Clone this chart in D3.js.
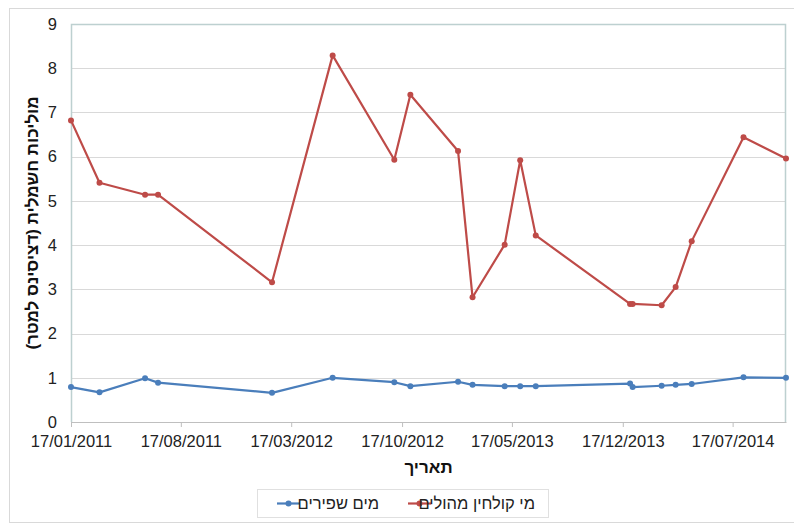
<!DOCTYPE html>
<html>
<head>
<meta charset="utf-8">
<script src="https://cdn.jsdelivr.net/npm/d3@7"></script>
<style>
  body { margin: 0; background: #fff; }
  svg { font-family: "Liberation Sans", Arial, "DejaVu Sans", sans-serif; }
</style>
</head>
<body>
<div id="chart"></div>
<script>
// נתונים
const dates = ["17/01/2011", "13/03/2011", "09/06/2011", "04/07/2011", "09/02/2012",
    "05/06/2012", "02/10/2012", "02/11/2012", "02/02/2013", "02/03/2013",
    "03/05/2013", "02/06/2013", "02/07/2013", "31/12/2013", "05/01/2014",
    "02/03/2014", "29/03/2014", "29/04/2014", "07/08/2014", "28/10/2014"];
const wastewater = [6.82, 5.41, 5.14, 5.14, 3.16, 8.29, 5.93, 7.40, 6.13, 2.82,
    4.01, 5.92, 4.22, 2.67, 2.67, 2.64, 3.05, 4.09, 6.44, 5.96];
const freshwater = [0.79, 0.67, 0.99, 0.89, 0.66, 1.00, 0.90, 0.81, 0.91, 0.84,
    0.81, 0.81, 0.81, 0.87, 0.79, 0.82, 0.84, 0.86, 1.01, 1.00];
const xTickLabels = ["17/01/2011", "17/08/2011", "17/03/2012", "17/10/2012",
    "17/05/2013", "17/12/2013", "17/07/2014"];
const yTicks = [0, 1, 2, 3, 4, 5, 6, 7, 8, 9];
const seriesNames = ["מי קולחין מהולים", "מים שפירים"];

const parse = d3.timeParse("%d/%m/%Y");
const fmt = d3.timeFormat("%d/%m/%Y");

const W = 794, H = 524;
const margin = { top: 24, right: 8, bottom: 102, left: 71 };
const width = W - margin.left - margin.right;
const height = H - margin.top - margin.bottom;

const svg = d3.select("#chart").append("svg")
    .attr("width", W)
    .attr("height", H);

// מסגרת חיצונית
svg.append("rect")
    .attr("x", 9.5).attr("y", 8.5)
    .attr("width", W).attr("height", 514)
    .attr("fill", "none")
    .attr("stroke", "#d9d9d9");

const g = svg.append("g")
    .attr("transform", `translate(${margin.left},${margin.top})`);

const x = d3.scaleTime()
    .domain([parse(dates[0]), parse(dates[dates.length - 1])])
    .range([0, width]);

const y = d3.scaleLinear()
    .domain([0, 9])
    .range([height, 0]);

// קווי רשת
g.append("g")
    .selectAll("line")
    .data(yTicks.filter(d => d > 0))
    .join("line")
    .attr("x1", 0).attr("x2", width)
    .attr("y1", d => Math.round(y(d)) + 0.5)
    .attr("y2", d => Math.round(y(d)) + 0.5)
    .attr("stroke", "#d9d9d9");

// מסגרת אזור השרטוט
g.append("path")
    .attr("d", `M0.5,${height}V0.5H${width - 0.5}V${height}`)
    .attr("fill", "none")
    .attr("stroke", "#bdd0d0")
    .attr("stroke-width", 1.5);

// ציר Y
const yAxis = g.append("g")
    .call(d3.axisLeft(y).tickValues(yTicks).tickSize(0).tickPadding(14));
yAxis.select(".domain").remove();
yAxis.selectAll("text")
    .style("font-size", "16.5px")
    .attr("fill", "#222");

// ציר X
const xAxis = g.append("g")
    .attr("transform", `translate(0,${height})`)
    .call(d3.axisBottom(x)
        .tickValues(xTickLabels.map(parse))
        .tickFormat(fmt)
        .tickSizeInner(5)
        .tickSizeOuter(0)
        .tickPadding(8));
xAxis.select(".domain").attr("stroke", "#bfbfbf");
xAxis.selectAll(".tick line").attr("stroke", "#bfbfbf");
xAxis.selectAll("text")
    .style("font-size", "16.5px")
    .attr("fill", "#222");

// כותרות צירים
svg.append("text")
    .attr("x", margin.left + width / 2)
    .attr("y", 473)
    .attr("text-anchor", "middle")
    .style("font-size", "17px")
    .style("font-weight", "bold")
    .attr("fill", "#111")
    .text("תאריך");

svg.append("text")
    .attr("transform", `translate(38,${margin.top + height / 2}) rotate(-90)`)
    .attr("text-anchor", "middle")
    .style("font-size", "17px")
    .style("font-weight", "bold")
    .attr("fill", "#111")
    .text("מוליכות חשמלית (דציסינס למטר)");

// סדרות
const series = [
    { name: seriesNames[0], values: wastewater, color: "#be4b48" },
    { name: seriesNames[1], values: freshwater, color: "#4a7ebb" }
];

const line = d3.line()
    .x((d, i) => x(parse(dates[i])))
    .y(d => y(d));

series.slice().reverse().forEach(s => {
    g.append("path")
        .datum(s.values)
        .attr("fill", "none")
        .attr("stroke", s.color)
        .attr("stroke-width", 2.2)
        .attr("stroke-linejoin", "round")
        .attr("d", line);
    g.selectAll(null)
        .data(s.values)
        .join("circle")
        .attr("cx", (d, i) => x(parse(dates[i])))
        .attr("cy", d => y(d))
        .attr("r", 3)
        .attr("fill", s.color);
});

// מקרא
const legend = svg.append("g");
legend.append("rect")
    .attr("x", 257.5).attr("y", 489.5)
    .attr("width", 291).attr("height", 28)
    .attr("fill", "#fff")
    .attr("stroke", "#e0e0e0");

const legendItems = [
    { s: series[1], lx: 277, tx: 379 },
    { s: series[0], lx: 408, tx: 535 }
];
legendItems.forEach(it => {
    legend.append("line")
        .attr("x1", it.lx).attr("x2", it.lx + 23)
        .attr("y1", 503.5).attr("y2", 503.5)
        .attr("stroke", it.s.color)
        .attr("stroke-width", 2.2);
    legend.append("circle")
        .attr("cx", it.lx + 11.5).attr("cy", 503.5)
        .attr("r", 3)
        .attr("fill", it.s.color);
    legend.append("text")
        .attr("x", it.tx).attr("y", 509)
        .attr("text-anchor", "end")
        .style("font-size", "16.5px")
        .attr("fill", "#222")
        .text(it.s.name);
});
</script>
</body>
</html>
